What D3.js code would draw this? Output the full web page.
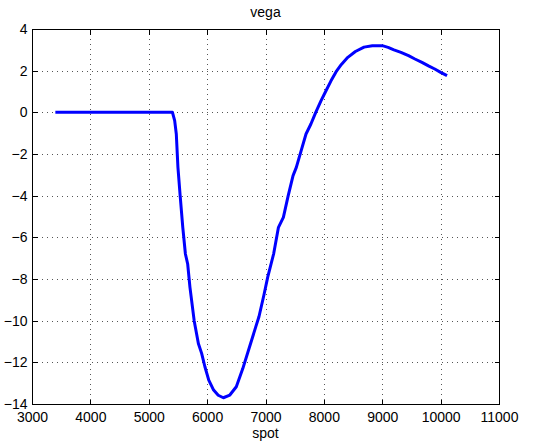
<!DOCTYPE html>
<html>
<head>
<meta charset="utf-8">
<script src="https://cdn.jsdelivr.net/npm/d3@7"></script>
<style>
  body { margin: 0; background: #fff; }
  text { font-family: "Liberation Sans", Arial, Helvetica, sans-serif; }
</style>
</head>
<body>
<svg id="chart" width="534" height="442"></svg>
<script>
// values
var spot = [3400, 3800, 4200, 4600, 5000, 5406, 5444, 5472, 5500, 5539, 5583, 5628, 5667, 5706,
  5778, 5850, 5906, 5961, 6028, 6111, 6190, 6278, 6389, 6500, 6611, 6722, 6833, 6889, 6972,
  7039, 7139, 7222, 7306, 7389, 7472, 7528, 7611, 7694, 7778, 7861, 7950, 8030, 8120, 8210,
  8300, 8410, 8540, 8688, 8830, 9000, 9100, 9200, 9320, 9450, 9560, 9680, 9800, 9900, 10000, 10110];
var vega = [0, 0, 0, 0, 0, 0, -0.4, -1.04, -2.64, -4.03, -5.52, -6.8, -7.28, -8.4,
  -10, -11.1, -11.57, -12.2, -12.85, -13.33, -13.58, -13.7, -13.57, -13.17, -12.3, -11.3, -10.3, -9.8, -8.78,
  -7.9, -6.8, -5.52, -5.04, -4.0, -3.04, -2.64, -1.84, -1.04, -0.56, 0, 0.55, 1.0, 1.5, 1.95,
  2.3, 2.64, 2.92, 3.13, 3.2, 3.2, 3.12, 3.0, 2.88, 2.72, 2.56, 2.4, 2.22, 2.08, 1.92, 1.76];
var xTicks = [3000, 4000, 5000, 6000, 7000, 8000, 9000, 10000, 11000];
var yTicks = [-14, -12, -10, -8, -6, -4, -2, 0, 2, 4];

var svg = d3.select("#chart");
var L = 32, R = 499, T = 29, B = 404;

var x = d3.scaleLinear().domain([3000, 11000]).range([L, R]);
var y = d3.scaleLinear().domain([-14, 4]).range([B, T]);

function fmt(d) { return d < 0 ? "\u2212" + Math.abs(d) : "" + d; }

// dotted grid
var grid = svg.append("g").attr("stroke", "#555").attr("stroke-width", 1)
  .attr("stroke-dasharray", "1,4").attr("shape-rendering", "crispEdges");
grid.selectAll(".gx").data(xTicks.slice(1, -1)).enter().append("line")
  .attr("x1", function(d) { return Math.round(x(d)) + 0.5; })
  .attr("x2", function(d) { return Math.round(x(d)) + 0.5; })
  .attr("y1", T).attr("y2", B);
grid.selectAll(".gy").data(yTicks.slice(1, -1)).enter().append("line")
  .attr("y1", function(d) { return Math.round(y(d)) + 0.5; })
  .attr("y2", function(d) { return Math.round(y(d)) + 0.5; })
  .attr("x1", L).attr("x2", R);

// the curve
var pts = spot.map(function(s, i) { return [s, vega[i]]; });
svg.append("path")
  .datum(pts)
  .attr("fill", "none")
  .attr("stroke", "#0000ff")
  .attr("stroke-width", 3)
  .attr("stroke-linejoin", "round")
  .attr("d", d3.line().x(function(d) { return x(d[0]); }).y(function(d) { return y(d[1]); }));

// axes, ticks inward on all four sides
var axB = svg.append("g").attr("transform", "translate(0," + (B + 0.5) + ")")
  .call(d3.axisBottom(x).tickValues(xTicks).tickSize(-5).tickPadding(8).tickFormat(fmt));
var axT = svg.append("g").attr("transform", "translate(0," + (T + 0.5) + ")")
  .call(d3.axisTop(x).tickValues(xTicks).tickSize(-5).tickFormat(""));
var axL = svg.append("g").attr("transform", "translate(" + (L + 0.5) + ",0)")
  .call(d3.axisLeft(y).tickValues(yTicks).tickSize(-5).tickPadding(5).tickFormat(fmt));
var axR = svg.append("g").attr("transform", "translate(" + (R + 0.5) + ",0)")
  .call(d3.axisRight(y).tickValues(yTicks).tickSize(-5).tickFormat(""));

[axB, axT, axL, axR].forEach(function(g) {
  g.select(".domain").remove();
  g.selectAll(".tick line").attr("stroke", "#000").attr("shape-rendering", "crispEdges");
  g.selectAll("text").attr("font-size", 14).attr("fill", "#000")
    .attr("font-family", "'Liberation Sans', Arial, sans-serif");
});

svg.append("rect")
  .attr("x", L + 0.5).attr("y", T + 0.5)
  .attr("width", R - L).attr("height", B - T)
  .attr("fill", "none").attr("stroke", "#000").attr("shape-rendering", "crispEdges");

svg.append("text").attr("x", (L + R) / 2).attr("y", 17)
  .attr("text-anchor", "middle").attr("font-size", 14).text("vega");
svg.append("text").attr("x", (L + R) / 2).attr("y", 438)
  .attr("text-anchor", "middle").attr("font-size", 14).text("spot");
</script>
</body>
</html>
